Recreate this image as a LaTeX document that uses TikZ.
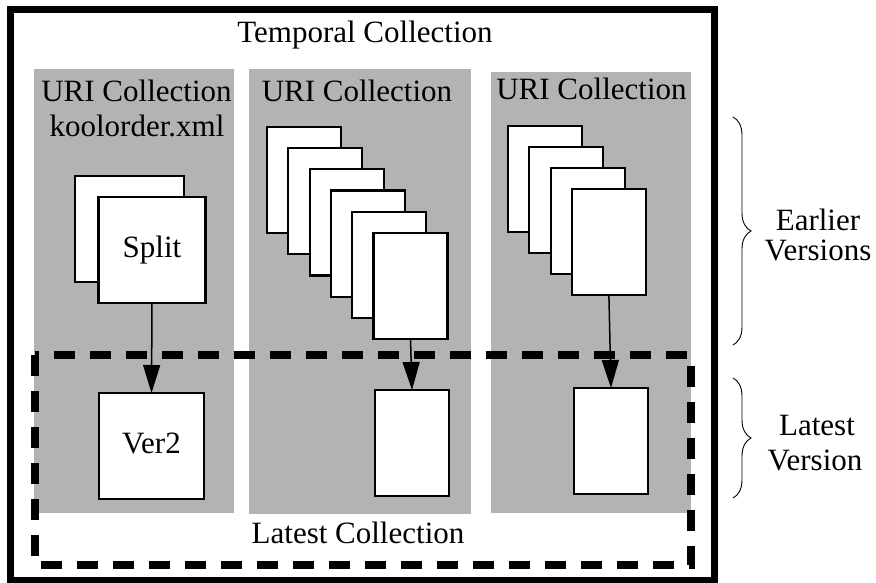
\documentclass[tikz,border=0pt]{standalone}
\usepackage{fontspec}
\setmainfont{Liberation Serif}
\usetikzlibrary{arrows.meta,decorations.pathreplacing}
\definecolor{panelgray}{RGB}{179,179,179}
\begin{document}
\begin{tikzpicture}[x=1pt,y=-1pt,
  lbl/.style={font=\fontsize{31}{31}\selectfont, inner sep=0pt, anchor=base},
  doc/.style={draw=black, fill=white, line width=2.2pt, inner sep=0pt, outer sep=0pt,
     minimum width=74pt, minimum height=106pt,
     font=\fontsize{31}{31}\selectfont, text height=21pt, text depth=7pt},
  bigdoc/.style={doc, minimum width=107pt},
  arr/.style={line width=1.5pt, -{Triangle[length=28pt,width=17pt]}},
  brc/.style={decorate, decoration={brace, amplitude=18pt}, line width=0.9pt}]
\useasboundingbox (0,0) rectangle (876,583);
% outer temporal collection
\draw[line width=7pt] (10.5,10) rectangle (714,580);
% URI collection panels
\fill[panelgray] (34,69) rectangle (234,513);
\fill[panelgray] (249,69) rectangle (471,514);
\fill[panelgray] (491,72) rectangle (691,513);
% latest collection dashed box
\draw[line width=7.5pt, dash pattern=on 21pt off 15pt] (35,355) rectangle (691,565);
% labels
\node[lbl] (title) at (365,43) {Temporal Collection};
\node[lbl] (u1) at (136.5,102) {URI Collection};
\node[lbl] (k1) at (137,137) {koolorder.xml};
\node[lbl] (u2) at (357,102) {URI Collection};
\node[lbl] (u3) at (591.5,100) {URI Collection};
\node[lbl] (lc) at (358,543) {Latest Collection};
\node[lbl] (ev1) at (818,230) {Earlier};
\node[lbl] (ev2) at (818,260) {Versions};
\node[lbl] (lv1) at (817,435) {Latest};
\node[lbl] (lv2) at (815,470) {Version};
% panel 1 docs
\node[bigdoc, minimum width=109pt] (p1a) at (129.5,229) {};
\node[bigdoc] (p1b) at (152,250) {Split};
\node[bigdoc, minimum width=105pt] (v1) at (151.5,446) {Ver2};
% panel 2 docs
\foreach \k in {0,...,5} {
  \node[doc] (p2d\k) at ({304+21.3*\k},{180+21.2*\k}) {};
}
\node[doc] (v2) at (412,443) {};
% panel 3 docs
\foreach \k in {0,...,3} {
  \node[doc] (p3d\k) at ({545+21.3*\k},{179+21*\k}) {};
}
\node[doc] (v3) at (611,441) {};
% arrows
\draw[arr] (p1b.south) -- (v1.north);
\draw[arr] (p2d5.south) -- (v2.north);
\draw[arr] (p3d3.south) -- (v3.north);
% braces
\draw[brc] (733,117) -- (733,345);
\draw[brc] (733,378) -- (733,498);
\end{tikzpicture}
\end{document}
